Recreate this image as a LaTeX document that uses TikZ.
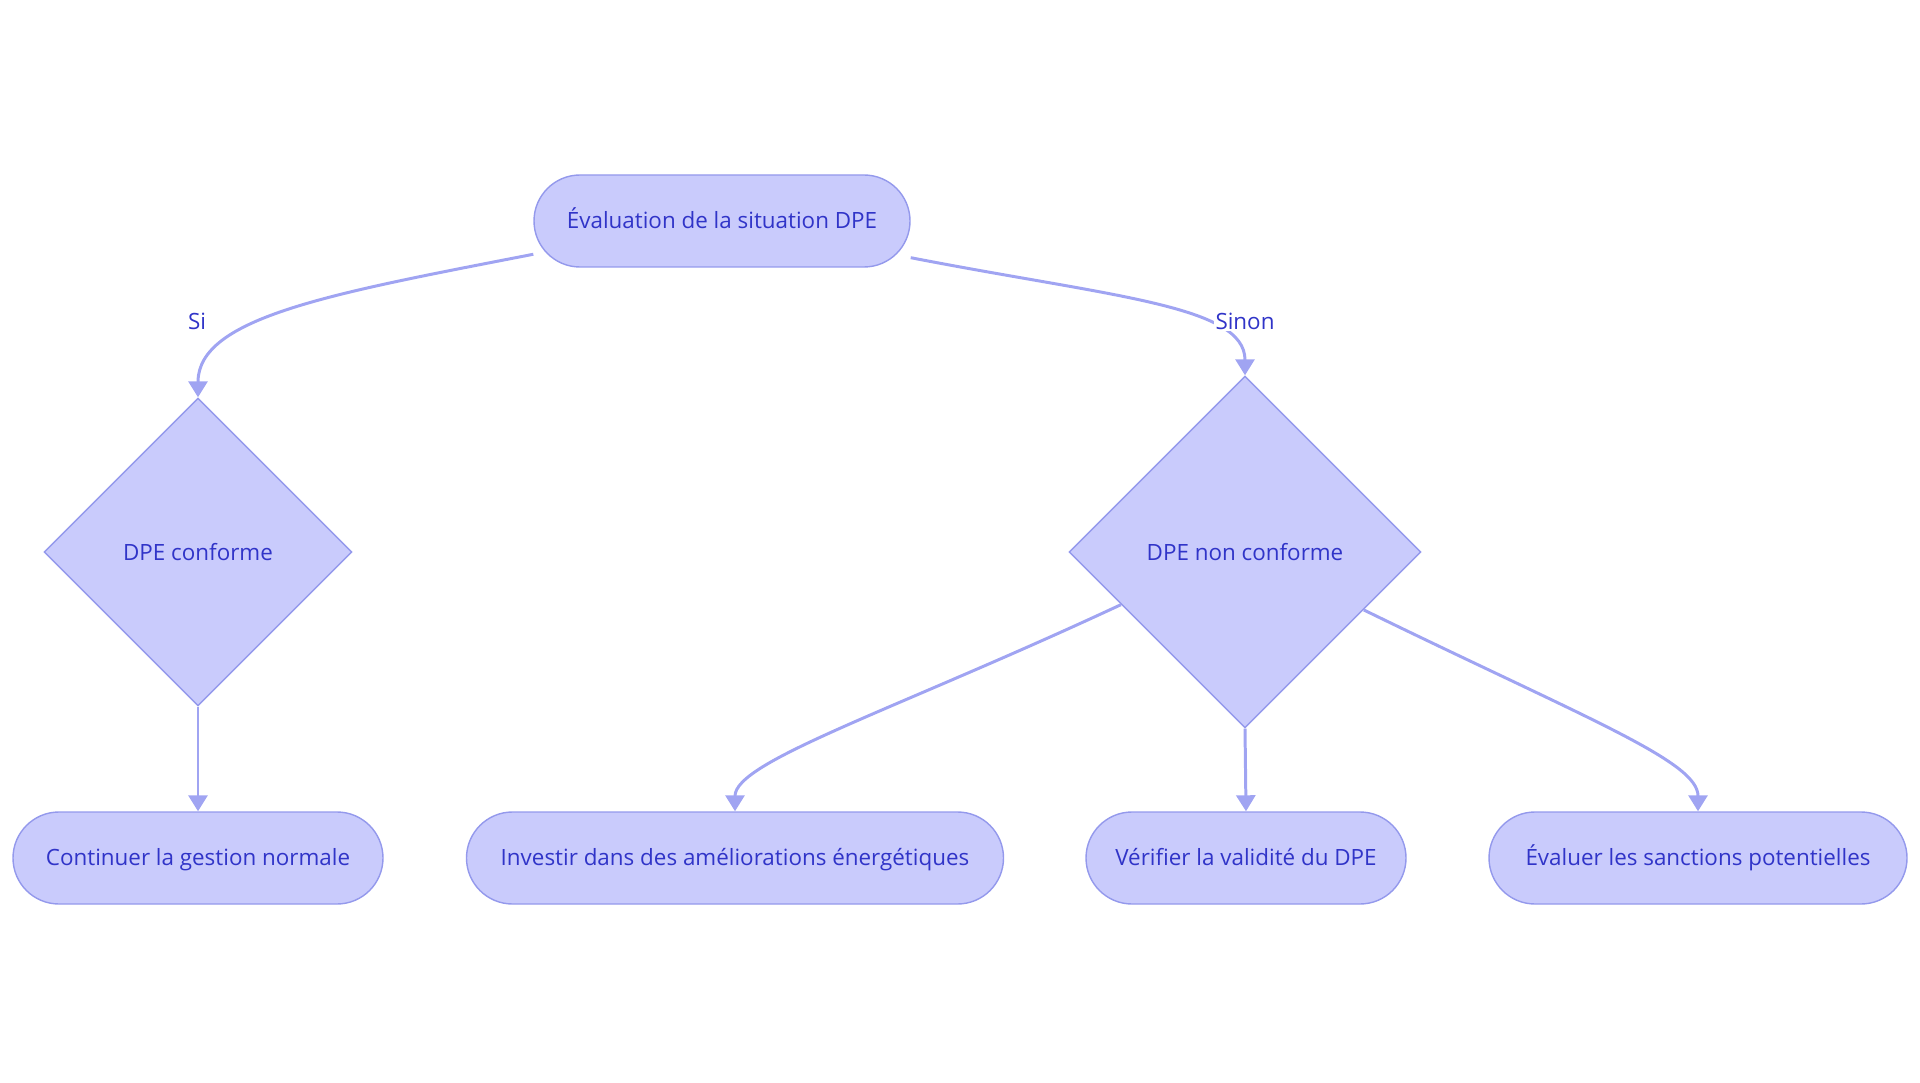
\documentclass[tikz,border=0pt]{standalone}
\usepackage{fontspec}
\setmainfont{Open Sans}
\usetikzlibrary{shapes.geometric,arrows.meta}
\definecolor{boxfill}{RGB}{201,203,252}
\definecolor{boxline}{RGB}{148,153,236}
\definecolor{edgeblue}{RGB}{160,164,242}
\definecolor{textblue}{RGB}{48,52,200}
\begin{document}
\begin{tikzpicture}[
        every node/.style={font=\fontsize{12.75}{15}\selectfont, text=textblue},
        stadium/.style={draw=boxline, fill=boxfill, rounded corners=0.92cm, minimum height=1.84cm, inner sep=0pt, line width=0.8pt, text height=1.05em, text depth=0.22em},
        choice/.style={draw=boxline, fill=boxfill, diamond, aspect=1, inner sep=0pt, line width=0.8pt, align=center},
        lbl/.style={fill=white, inner sep=1pt},
        flow/.style={draw=edgeblue, line width=1.7pt, -{Triangle[width=0.38cm,length=0.32cm]}}
    ]
        \useasboundingbox (0,0) rectangle (38.4,-21.66);
        \node[stadium, minimum width=7.52cm] (eval) at (14.44, -4.42) {Évaluation de la situation DPE};
        \node[choice, minimum width=6.16cm, minimum height=6.16cm] (ok) at (3.96, -11.04) {DPE conforme};
        \node[choice, minimum width=7.04cm, minimum height=7.04cm] (nok) at (24.9, -11.04) {DPE non conforme};
        \node[stadium, minimum width=7.4cm]  (cont) at (3.96, -17.16) {Continuer la gestion normale};
        \node[stadium, minimum width=10.74cm] (inv) at (14.7, -17.16) {Investir dans des améliorations énergétiques};
        \node[stadium, minimum width=6.4cm]  (verif) at (24.92, -17.16) {Vérifier la validité du DPE};
        \node[stadium, minimum width=8.36cm] (sanc) at (33.96, -17.16) {Évaluer les sanctions potentielles};
        \draw[flow] (eval.190.8) .. controls +(191:4.1) and +(90:1.6) .. (ok.north);
        \draw[flow] (eval.349.2) .. controls +(-11:4.1) and +(90:1.4) .. (nok.north);
        \node[lbl] (si) at (3.94, -6.42) {Si};
        \node[lbl] (sinon) at (24.9, -6.42) {Sinon};
        \draw[flow] (ok.south) -- (cont.north);
        \draw[flow] (nok.203.5) .. controls +(205:5) and +(90:1) .. (inv.north);
        \draw[flow] (nok.south) -- (verif.north);
        \draw[flow] (nok.334) .. controls +(-26:5) and +(90:1) .. (sanc.north);
    \end{tikzpicture}
\end{document}
